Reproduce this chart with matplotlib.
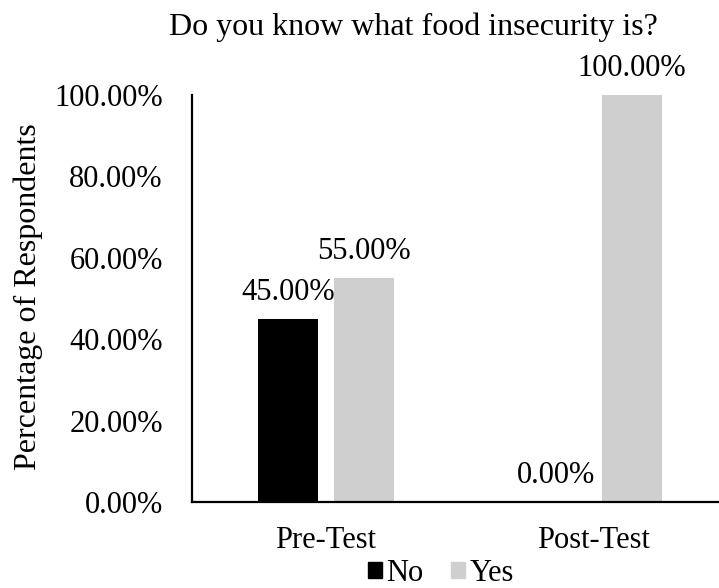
import matplotlib
matplotlib.use("Agg")
import matplotlib.pyplot as plt
import numpy as np
from matplotlib.patches import Rectangle

plt.rcParams['font.family'] = ['Liberation Serif', 'DejaVu Serif']

categories = ["Pre-Test", "Post-Test"]
series_names = ["No", "Yes"]
no_values = [45.0, 0.0]
yes_values = [55.0, 100.0]
y_ticks = [0, 20, 40, 60, 80, 100]

title = "Do you know what food insecurity is?"
y_label = "Percentage of Respondents"

colors = ["#000000", "#d0cfd0"]
fs = 22
fs_big = 23

fig = plt.figure(figsize=(7.19, 5.88), dpi=100)
ax = fig.add_axes([192 / 719, 86 / 588, 536 / 719, 407 / 588])

x = np.arange(len(categories))
width = 0.224
offset = 0.142

bars_no = ax.bar(x - offset, no_values, width, color=colors[0], label=series_names[0])
bars_yes = ax.bar(x + offset, yes_values, width, color=colors[1], label=series_names[1])

# value labels sit a fixed distance above each bar end
for bars, vals in ((bars_no, no_values), (bars_yes, yes_values)):
    for b, v in zip(bars, vals):
        ax.annotate(f"{v:.2f}%", (b.get_x() + b.get_width() / 2, v),
                    xytext=(0, 13.7), textcoords="offset points",
                    ha="center", va="baseline", fontsize=fs,
                    annotation_clip=False)

ax.set_xlim(-0.5, 1.5)
ax.set_ylim(0, 100)
ax.set_yticks(y_ticks)
ax.set_yticklabels([f"{t:.2f}%" for t in y_ticks], fontsize=fs)
ax.set_xticks(x)
ax.set_xticklabels(categories, fontsize=fs)
ax.tick_params(axis="y", length=0, pad=21)
ax.tick_params(axis="x", length=0, pad=17)

for s in ("top", "right"):
    ax.spines[s].set_visible(False)
for s in ("left", "bottom"):
    ax.spines[s].set_linewidth(1.6)
    ax.spines[s].set_color("black")

fig.text(28 / 719, 1 - 297 / 588, y_label, fontsize=fs_big, rotation=90,
         ha="center", va="center")

fig.text(413 / 719, 1 - 35 / 588, title, fontsize=fs_big, ha="center", va="baseline")

handles = [Rectangle((0, 0), 1, 1, color=c) for c in colors]
fig.legend(handles, series_names, loc="lower center", bbox_to_anchor=(441 / 719, 0.0),
           ncol=2, frameon=False, fontsize=fs, handlelength=0.45, handleheight=0.45,
           handletextpad=0.15, columnspacing=0.9, borderaxespad=0, borderpad=0)

fig.savefig("out.png", dpi=100)
